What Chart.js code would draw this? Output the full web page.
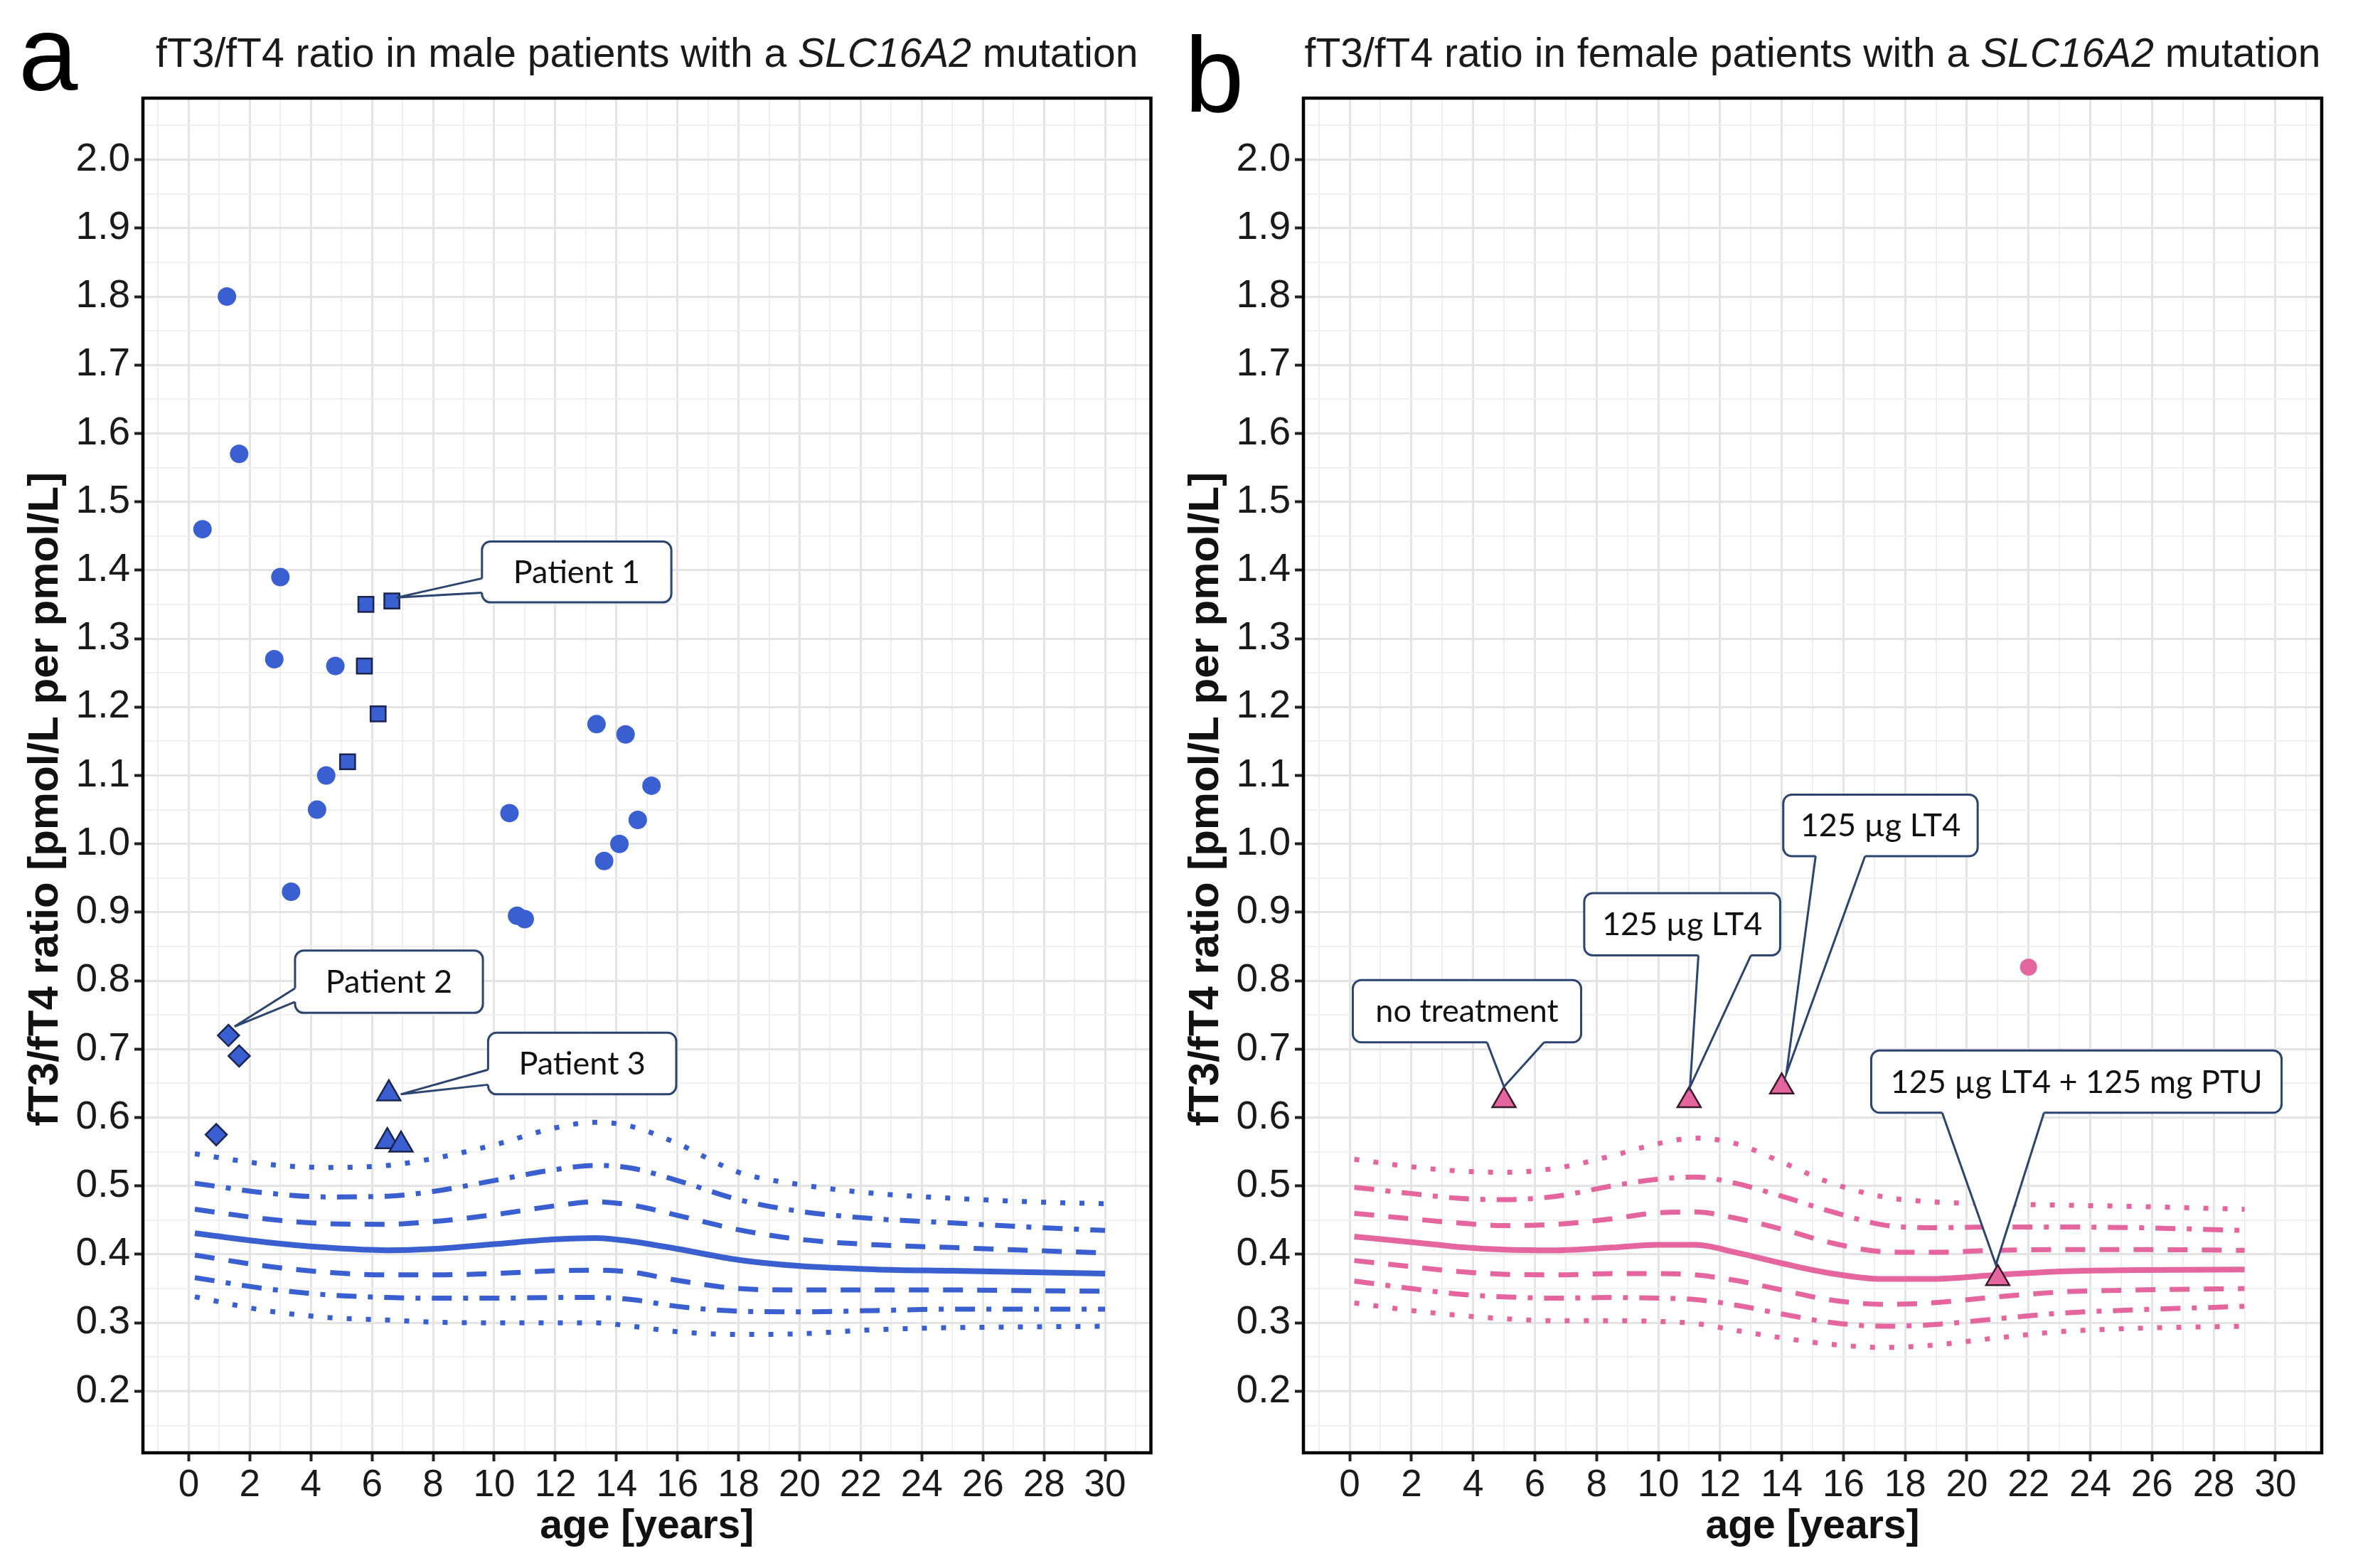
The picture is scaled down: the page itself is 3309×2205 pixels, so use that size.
<!DOCTYPE html>
<html>
<head>
<meta charset="utf-8">
<script src="https://cdn.jsdelivr.net/npm/chart.js@4.4.1/dist/chart.umd.min.js"></script>
<style>
  html, body { margin: 0; padding: 0; background: #fff; }
  #wrap { position: relative; width: 3309px; height: 2205px; overflow: hidden; }
  canvas { position: absolute; top: 0; }
</style>
</head>
<body>
<div id="wrap">
  <canvas id="male" width="1640" height="2205" style="left:0"></canvas>
  <canvas id="female" width="1677" height="2205" style="left:1632px"></canvas>
</div>
<script>
// ---- data ----
// male reference percentiles
const maleAges = [0.2, 2.5, 4.5, 6.5, 8, 10, 12, 13.3, 14.5, 16, 18, 20, 22.5, 25, 27.5, 30];
const maleP50  = [0.431, 0.418, 0.410, 0.406, 0.408, 0.415, 0.422, 0.424, 0.419, 0.408, 0.392, 0.383, 0.378, 0.376, 0.374, 0.372];
const maleP75  = [0.466, 0.452, 0.445, 0.444, 0.448, 0.458, 0.471, 0.477, 0.472, 0.457, 0.436, 0.422, 0.414, 0.410, 0.406, 0.402];
const maleP25  = [0.399, 0.383, 0.374, 0.370, 0.370, 0.372, 0.376, 0.377, 0.374, 0.362, 0.350, 0.348, 0.348, 0.348, 0.347, 0.346];
const maleP90  = [0.504, 0.490, 0.484, 0.485, 0.492, 0.508, 0.524, 0.530, 0.526, 0.508, 0.480, 0.463, 0.452, 0.446, 0.440, 0.435];
const maleP10  = [0.366, 0.350, 0.341, 0.337, 0.336, 0.336, 0.337, 0.337, 0.334, 0.324, 0.317, 0.316, 0.318, 0.320, 0.320, 0.320];
const maleP975 = [0.547, 0.532, 0.527, 0.530, 0.540, 0.560, 0.585, 0.593, 0.587, 0.562, 0.520, 0.502, 0.489, 0.482, 0.477, 0.474];
const maleP025 = [0.338, 0.318, 0.308, 0.304, 0.301, 0.300, 0.300, 0.300, 0.295, 0.287, 0.283, 0.284, 0.290, 0.293, 0.294, 0.295];

// male patients
const maleOtherAge   = [1.25, 1.65, 0.45, 3.0, 2.8, 4.8, 4.5, 4.2, 3.35, 10.5, 10.75, 11.0, 13.35, 14.3, 15.15, 14.7, 14.1, 13.6];
const maleOtherRatio = [1.80, 1.57, 1.46, 1.39, 1.27, 1.26, 1.10, 1.05, 0.93, 1.045, 0.895, 0.89, 1.175, 1.16, 1.085, 1.035, 1.0, 0.975];
const patient1Age   = [5.8, 6.65, 5.75, 6.2, 5.2];
const patient1Ratio = [1.35, 1.355, 1.26, 1.19, 1.12];
const patient2Age   = [1.3, 1.65, 0.9];
const patient2Ratio = [0.72, 0.69, 0.575];
const patient3Age   = [6.55, 6.5, 6.95];
const patient3Ratio = [0.635, 0.565, 0.56];

// female reference percentiles
const femaleAges = [0.15, 2, 3.5, 5, 6.7, 8.5, 10, 11.2, 12.5, 14, 15.5, 17.3, 18.8, 21, 23, 25.5, 29];
const femaleP50  = [0.426, 0.418, 0.411, 0.407, 0.406, 0.410, 0.414, 0.414, 0.403, 0.387, 0.373, 0.364, 0.364, 0.370, 0.375, 0.377, 0.378];
const femaleP75  = [0.460, 0.452, 0.446, 0.442, 0.444, 0.452, 0.461, 0.462, 0.453, 0.437, 0.418, 0.404, 0.403, 0.406, 0.407, 0.407, 0.406];
const femaleP25  = [0.391, 0.382, 0.375, 0.371, 0.370, 0.372, 0.372, 0.370, 0.362, 0.348, 0.334, 0.327, 0.329, 0.338, 0.345, 0.348, 0.350];
const femaleP90  = [0.498, 0.489, 0.482, 0.480, 0.485, 0.500, 0.510, 0.513, 0.504, 0.485, 0.464, 0.443, 0.439, 0.440, 0.440, 0.439, 0.435];
const femaleP10  = [0.361, 0.350, 0.342, 0.338, 0.336, 0.337, 0.336, 0.334, 0.326, 0.313, 0.301, 0.295, 0.297, 0.306, 0.314, 0.319, 0.324];
const femaleP975 = [0.539, 0.528, 0.522, 0.520, 0.526, 0.544, 0.562, 0.570, 0.562, 0.535, 0.506, 0.484, 0.477, 0.474, 0.472, 0.470, 0.466];
const femaleP025 = [0.329, 0.318, 0.311, 0.306, 0.303, 0.303, 0.302, 0.299, 0.289, 0.278, 0.269, 0.264, 0.267, 0.278, 0.287, 0.292, 0.295];

// female patients
const femaleTreatAge   = [5, 11, 14, 21];
const femaleTreatRatio = [0.625, 0.625, 0.645, 0.365];
const femaleOtherAge   = [22];
const femaleOtherRatio = [0.82];

// axis ticks
const xTickValues = [];
for (let i = -1; i <= 31; i++) xTickValues.push(i);
const yTickValues = [];
for (let i = 3; i <= 41; i++) yTickValues.push(i / 20);

// ---- styles ----
const BLUE = '#3A5FD0';
const PINK = '#E5669F';
const NAVY = '#2B4470';
const FONT = '"Liberation Sans", Arial, Helvetica, sans-serif';
const CALLOUT_FONT = 'Lato, "Open Sans", sans-serif';
Chart.defaults.font.family = FONT;

const DOT = [7, 20];
const DASH = [28, 20];
const DASHDOT = [28, 16, 7, 16];

function pts(xs, ys) {
  return xs.map((x, i) => ({ x: x, y: ys[i] }));
}

function curve(xs, ys, color, dash, width) {
  return {
    data: pts(xs, ys), showLine: true, pointRadius: 0,
    borderColor: color, borderWidth: width || 7, borderDash: dash || [],
    cubicInterpolationMode: 'monotone', fill: false, order: 2
  };
}

function marks(xs, ys, style, fill, radius, border) {
  return {
    data: pts(xs, ys), showLine: false, pointStyle: style,
    pointRadius: radius, backgroundColor: fill,
    borderColor: border || fill, borderWidth: border ? 2.5 : 0, order: 1
  };
}

// box border + header text
function frameAndHeader(letter, letterX, letterY, parts) {
  return {
    id: 'frame_' + letter,
    afterDraw(chart) {
      const { ctx, chartArea: a } = chart;
      ctx.save();
      ctx.strokeStyle = '#000';
      ctx.lineWidth = 4.5;
      ctx.strokeRect(a.left, a.top, a.right - a.left, a.bottom - a.top);

      ctx.fillStyle = '#000';
      ctx.textBaseline = 'alphabetic';
      ctx.textAlign = 'left';
      ctx.font = '150px ' + FONT;
      ctx.fillText(letter, letterX, letterY);

      const size = '57px ';
      let total = 0;
      parts.forEach(p => {
        ctx.font = (p.italic ? 'italic ' : '') + size + FONT;
        total += ctx.measureText(p.text).width;
      });
      let x = (a.left + a.right) / 2 - total / 2;
      ctx.fillStyle = '#1a1a1a';
      parts.forEach(p => {
        ctx.font = (p.italic ? 'italic ' : '') + size + FONT;
        ctx.fillText(p.text, x, 94);
        x += ctx.measureText(p.text).width;
      });
      ctx.restore();
    }
  };
}

// speech-bubble labels, placed in data units
function callouts(id, items) {
  return {
    id: id,
    afterDatasetsDraw(chart) {
      const { ctx, scales: { x, y } } = chart;
      ctx.save();
      items.forEach(c => {
        const x1 = x.getPixelForValue(c.box[0]), x2 = x.getPixelForValue(c.box[1]);
        const y1 = y.getPixelForValue(c.box[2]), y2 = y.getPixelForValue(c.box[3]);
        const b1 = [x.getPixelForValue(c.base[0][0]), y.getPixelForValue(c.base[0][1])];
        const b2 = [x.getPixelForValue(c.base[1][0]), y.getPixelForValue(c.base[1][1])];
        const tip = [x.getPixelForValue(c.tip[0]), y.getPixelForValue(c.tip[1])];
        if (c.side === 'left') { b1[0] = x1; b2[0] = x1; } else { b1[1] = y2; b2[1] = y2; }

        ctx.beginPath();
        ctx.roundRect(x1, y1, x2 - x1, y2 - y1, 12);
        ctx.fillStyle = '#fff';
        ctx.fill();
        ctx.lineWidth = 3;
        ctx.strokeStyle = NAVY;
        ctx.stroke();

        const dx = c.side === 'left' ? 6 : 0, dy = c.side === 'left' ? 0 : -6;
        ctx.beginPath();
        ctx.moveTo(b1[0] + dx, b1[1] + dy);
        ctx.lineTo(b1[0], b1[1]);
        ctx.lineTo(tip[0], tip[1]);
        ctx.lineTo(b2[0], b2[1]);
        ctx.lineTo(b2[0] + dx, b2[1] + dy);
        ctx.closePath();
        ctx.fillStyle = '#fff';
        ctx.fill();

        ctx.beginPath();
        ctx.moveTo(b1[0], b1[1]);
        ctx.lineTo(tip[0], tip[1]);
        ctx.lineTo(b2[0], b2[1]);
        ctx.stroke();

        ctx.fillStyle = '#111';
        ctx.font = '45px ' + CALLOUT_FONT;
        ctx.textAlign = 'center';
        ctx.textBaseline = 'middle';
        ctx.fillText(c.text, (x1 + x2) / 2, (y1 + y2) / 2 + 1);
      });
      ctx.restore();
    }
  };
}

function panelOptions(rightPad) {
  const isMajorX = v => Math.round(v) % 2 === 0;
  const isMajorY = v => Math.round(v * 20) % 2 === 0;
  return {
    responsive: false, animation: false, devicePixelRatio: 1,
    layout: { padding: { top: 138, right: rightPad, left: 0, bottom: 0 } },
    plugins: { legend: { display: false }, tooltip: { enabled: false } },
    scales: {
      x: {
        type: 'linear', min: -1.5, max: 31.5,
        afterBuildTicks: s => { s.ticks = xTickValues.map(v => ({ value: v })); },
        afterFit: s => { s.height = 162; },
        border: { display: false },
        grid: {
          color: c => isMajorX(c.tick.value) ? '#e4e4e4' : '#efefef',
          lineWidth: c => isMajorX(c.tick.value) ? 3 : 2,
          tickColor: c => (isMajorX(c.tick.value) && c.tick.value >= 0 && c.tick.value <= 30) ? '#222' : 'rgba(0,0,0,0)',
          tickLength: 12, tickWidth: 4
        },
        ticks: {
          autoSkip: false, maxRotation: 0, minRotation: 0, padding: 3,
          color: '#1a1a1a', font: { size: 53 },
          callback: v => (isMajorX(v) && v >= 0 && v <= 30) ? String(v) : ''
        },
        title: {
          display: true, text: 'age [years]', color: '#111',
          font: { size: 57, weight: 'bold' }, padding: { top: 0, bottom: 24 }
        }
      },
      y: {
        type: 'linear', min: 0.11, max: 2.09,
        afterBuildTicks: s => { s.ticks = yTickValues.map(v => ({ value: v })); },
        afterFit: s => { s.width = 201; },
        border: { display: false },
        grid: {
          color: c => isMajorY(c.tick.value) ? '#e4e4e4' : '#efefef',
          lineWidth: c => isMajorY(c.tick.value) ? 3 : 2,
          tickColor: c => (isMajorY(c.tick.value) && c.tick.value > 0.19 && c.tick.value < 2.01) ? '#222' : 'rgba(0,0,0,0)',
          tickLength: 12, tickWidth: 4
        },
        ticks: {
          autoSkip: false, padding: 6, color: '#1a1a1a', font: { size: 55 },
          callback: v => (isMajorY(v) && v > 0.19 && v < 2.01) ? v.toFixed(1) : ''
        },
        title: {
          // trailing spaces nudge the rotated label down, as in the original
          display: true, text: 'fT3/fT4 ratio [pmol/L per pmol/L]    ', color: '#111',
          font: { size: 60, weight: 'bold' }, padding: { top: 28, bottom: 0 }
        }
      }
    }
  };
}

// ---- male panel ----
new Chart(document.getElementById('male'), {
  type: 'scatter',
  data: {
    datasets: [
      curve(maleAges, maleP975, BLUE, DOT),
      curve(maleAges, maleP90, BLUE, DASHDOT),
      curve(maleAges, maleP75, BLUE, DASH),
      curve(maleAges, maleP50, BLUE, [], 8),
      curve(maleAges, maleP25, BLUE, DASH),
      curve(maleAges, maleP10, BLUE, DASHDOT),
      curve(maleAges, maleP025, BLUE, DOT),
      marks(maleOtherAge, maleOtherRatio, 'circle', BLUE, 13),
      marks(patient1Age, patient1Ratio, 'rect', BLUE, 15, '#1b2550'),
      marks(patient2Age, patient2Ratio, 'rectRot', BLUE, 15, '#1b2550'),
      marks(patient3Age, patient3Ratio, 'triangle', BLUE, 19, '#1b2550')
    ]
  },
  options: panelOptions(7),
  plugins: [
    frameAndHeader('a', 26, 127, [
      { text: 'fT3/fT4 ratio in male patients with a ' },
      { text: 'SLC16A2', italic: true },
      { text: ' mutation' }
    ]),
    callouts('maleCallouts', [
      { text: 'Patient 1', box: [9.6, 15.8, 1.442, 1.353], side: 'left', base: [[0, 1.388], [0, 1.367]], tip: [6.8, 1.36] },
      { text: 'Patient 2', box: [3.48, 9.63, 0.844, 0.753], side: 'left', base: [[0, 0.789], [0, 0.769]], tip: [1.5, 0.733] },
      { text: 'Patient 3', box: [9.8, 15.96, 0.724, 0.634], side: 'left', base: [[0, 0.670], [0, 0.648]], tip: [6.94, 0.634] }
    ])
  ]
});

// ---- female panel ----
new Chart(document.getElementById('female'), {
  type: 'scatter',
  data: {
    datasets: [
      curve(femaleAges, femaleP975, PINK, DOT),
      curve(femaleAges, femaleP90, PINK, DASHDOT),
      curve(femaleAges, femaleP75, PINK, DASH),
      curve(femaleAges, femaleP50, PINK, [], 8),
      curve(femaleAges, femaleP25, PINK, DASH),
      curve(femaleAges, femaleP10, PINK, DASHDOT),
      curve(femaleAges, femaleP025, PINK, DOT),
      marks(femaleOtherAge, femaleOtherRatio, 'circle', PINK, 12),
      marks(femaleTreatAge, femaleTreatRatio, 'triangle', PINK, 19, '#3a1a2a')
    ]
  },
  options: panelOptions(44),
  plugins: [
    frameAndHeader('b', 34, 157, [
      { text: 'fT3/fT4 ratio in female patients with a ' },
      { text: 'SLC16A2', italic: true },
      { text: ' mutation' }
    ]),
    callouts('femaleCallouts', [
      { text: 'no treatment', box: [0.1, 7.5, 0.801, 0.710], side: 'bottom', base: [[4.45, 0], [6.3, 0]], tip: [5.0, 0.645] },
      { text: '125 µg LT4', box: [7.6, 13.95, 0.928, 0.837], side: 'bottom', base: [[11.3, 0], [13.0, 0]], tip: [11.03, 0.645] },
      { text: '125 µg LT4', box: [14.05, 20.35, 1.072, 0.982], side: 'bottom', base: [[15.1, 0], [16.7, 0]], tip: [14.15, 0.664] },
      { text: '125 µg LT4 + 125 mg PTU', box: [16.9, 30.2, 0.698, 0.607], side: 'bottom', base: [[19.2, 0], [22.5, 0]], tip: [20.94, 0.385] }
    ])
  ]
});
</script>
</body>
</html>
